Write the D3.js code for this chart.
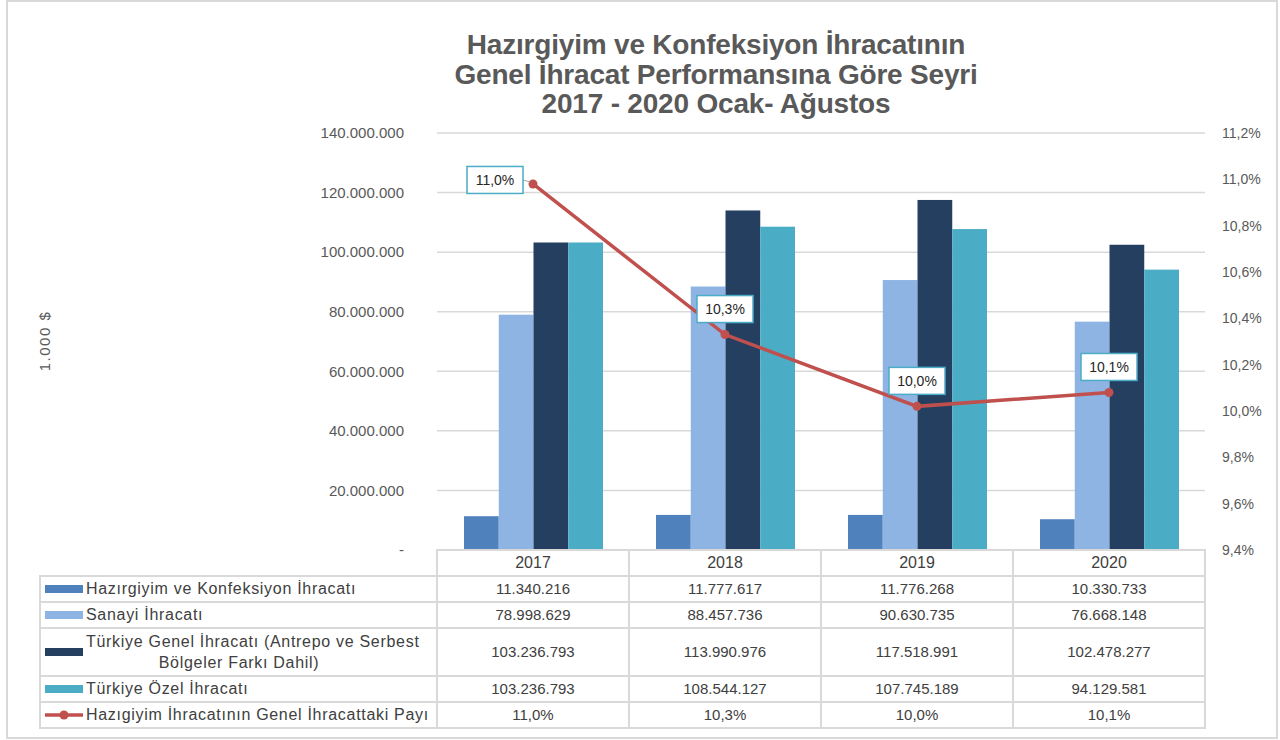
<!DOCTYPE html>
<html>
<head>
<meta charset="utf-8">
<script src="https://cdn.jsdelivr.net/npm/d3@7"></script>
<style>
  body { margin: 0; background: #fff; }
  text { font-family: "Liberation Sans", Arial, sans-serif; }
  .tick-l, .tick-r { fill: #595959; font-size: 14px; }
  .cell { fill: #404040; font-size: 15px; }
  .legtxt { fill: #404040; font-size: 16px; letter-spacing: 0.7px; }
  .grid { stroke: #d9d9d9; stroke-width: 1.5; }
  .tbl { stroke: #d9d9d9; stroke-width: 2; fill: none; }
</style>
</head>
<body>
<script>
// data
var years = ["2017", "2018", "2019", "2020"];
var hazirgiyim = [11340216, 11777617, 11776268, 10330733];
var sanayi = [78998629, 88457736, 90630735, 76668148];
var genel = [103236793, 113990976, 117518991, 102478277];
var ozel = [103236793, 108544127, 107745189, 94129581];
var pay = [10.98, 10.33, 10.02, 10.08];
var leftTicks = [0, 20e6, 40e6, 60e6, 80e6, 100e6, 120e6, 140e6];
var rightTicks = [9.4, 9.6, 9.8, 10.0, 10.2, 10.4, 10.6, 10.8, 11.0, 11.2];

var seriesNames = ["Hazırgiyim ve Konfeksiyon İhracatı", "Sanayi İhracatı",
  "Türkiye Genel İhracatı (Antrepo ve Serbest", "Türkiye Özel İhracatı"];
var lineName = "Hazıgiyim İhracatının Genel İhracattaki Payı";
var colors = ["#4f81bd", "#8eb4e3", "#243f60", "#4bacc6"];
var lineColor = "#c0504d";

var series = [hazirgiyim, sanayi, genel, ozel];

var tr = d3.formatLocale({decimal: ",", thousands: ".", grouping: [3], currency: ["", ""]});
var fmtNum = tr.format(",d");
var fmtPct = function(v) { return tr.format(".1f")(v) + "%"; };

var svg = d3.select("body").append("svg")
    .attr("width", 1280)
    .attr("height", 740);

// outer border
svg.append("rect")
    .attr("x", 7).attr("y", 1)
    .attr("width", 1270).attr("height", 737)
    .attr("fill", "#fff")
    .attr("stroke", "#d9d9d9")
    .attr("stroke-width", 2);

// scales
var x = d3.scaleBand().domain(years).range([437, 1205]);
var xInner = d3.scaleBand().domain(d3.range(4)).range([27, 166]);
var y = d3.scaleLinear().domain([0, 140e6]).range([550, 133]);
var y2 = d3.scaleLinear().domain([9.4, 11.2]).range([550, 133]);

// title
var title = ["Hazırgiyim ve Konfeksiyon İhracatının",
  "Genel İhracat Performansına Göre Seyri",
  "2017 - 2020 Ocak- Ağustos"];
svg.selectAll(".title").data(title).enter().append("text")
    .attr("class", "title")
    .attr("x", 716)
    .attr("y", function(d, i) { return 54 + i * 29.5; })
    .attr("text-anchor", "middle")
    .style("font-size", "28px")
    .style("font-weight", "bold")
    .style("letter-spacing", "-0.2px")
    .style("fill", "#595959")
    .text(function(d) { return d; });

// gridlines
svg.selectAll(".grid").data(leftTicks.slice(1)).enter().append("line")
    .attr("class", "grid")
    .attr("x1", 437).attr("x2", 1205)
    .attr("y1", function(d) { return y(d); })
    .attr("y2", function(d) { return y(d); });

// left axis
var axL = svg.append("g")
    .attr("transform", "translate(404,0)")
    .call(d3.axisLeft(y).tickValues(leftTicks).tickSize(0).tickPadding(0)
      .tickFormat(function(d) { return d === 0 ? "-" : fmtNum(d); }));
axL.select(".domain").remove();
axL.selectAll("text").attr("class", "tick-l").attr("font-family", null).attr("font-size", null).attr("fill", null)
    .style("font-size", "15px");

// right axis
var axR = svg.append("g")
    .attr("transform", "translate(1222,0)")
    .call(d3.axisRight(y2).tickValues(rightTicks).tickSize(0).tickPadding(0)
      .tickFormat(fmtPct));
axR.select(".domain").remove();
axR.selectAll("text").attr("class", "tick-r").attr("font-family", null).attr("font-size", null).attr("fill", null);

// y axis title
svg.append("text")
    .attr("transform", "translate(50,341)rotate(-90)")
    .attr("text-anchor", "middle")
    .style("font-size", "15px")
    .style("letter-spacing", "1.5px")
    .style("fill", "#595959")
    .text("1.000 $");

// bars
series.forEach(function(vals, s) {
  svg.selectAll(".bar" + s).data(vals).enter().append("rect")
      .attr("class", "bar" + s)
      .attr("x", function(d, i) { return x(years[i]) + xInner(s); })
      .attr("width", xInner.bandwidth())
      .attr("y", function(d) { return y(d); })
      .attr("height", function(d) { return y(0) - y(d); })
      .attr("fill", colors[s]);
});

// line
var linePts = pay.map(function(v, i) { return [x(years[i]) + x.bandwidth() / 2, y2(v)]; });
svg.append("path")
    .attr("d", d3.line()(linePts))
    .attr("fill", "none")
    .attr("stroke", lineColor)
    .attr("stroke-width", 3.5);
svg.selectAll(".pt").data(linePts).enter().append("circle")
    .attr("cx", function(d) { return d[0]; })
    .attr("cy", function(d) { return d[1]; })
    .attr("r", 4.5)
    .attr("fill", lineColor);

// data labels (first one left of point, others above)
var lblW = 56, lblH = 27;
linePts.forEach(function(p, i) {
  var cx, cy;
  if (i === 0) {
    cx = p[0] - 10 - lblW / 2; cy = p[1] - 4;
    svg.append("line")
        .attr("x1", cx + lblW / 2).attr("x2", p[0] - 3)
        .attr("y1", cy).attr("y2", cy + 2)
        .attr("stroke", "#a6a6a6").attr("stroke-width", 1);
  } else {
    cx = p[0]; cy = p[1] - 12 - lblH / 2;
  }
  svg.append("rect")
      .attr("x", cx - lblW / 2).attr("y", cy - lblH / 2)
      .attr("width", lblW).attr("height", lblH)
      .attr("fill", "#fff")
      .attr("stroke", "#4bacc6")
      .attr("stroke-width", 1.5);
  svg.append("text")
      .attr("x", cx).attr("y", cy + 5)
      .attr("text-anchor", "middle")
      .style("font-size", "14px")
      .style("fill", "#262626")
      .text(fmtPct(pay[i]));
});

// data table
var rowTops = [576, 602, 628, 676, 702, 728];
var colEdges = [437, 629, 821, 1013, 1205];

// header cells
svg.append("path").attr("class", "tbl")
    .attr("d", "M437,576V550H1205V576");
years.forEach(function(yr) {
  svg.append("text").attr("class", "cell")
      .attr("x", x(yr) + x.bandwidth() / 2)
      .attr("y", 568)
      .attr("text-anchor", "middle")
      .style("font-size", "16px")
      .text(yr);
});

// grid of table
svg.append("rect").attr("class", "tbl")
    .attr("x", 40).attr("y", 576)
    .attr("width", 1165).attr("height", 152);
rowTops.slice(1, 5).forEach(function(t) {
  svg.append("line").attr("class", "tbl")
      .attr("x1", 40).attr("x2", 1205).attr("y1", t).attr("y2", t);
});
colEdges.forEach(function(c) {
  svg.append("line").attr("class", "tbl")
      .attr("x1", c).attr("x2", c).attr("y1", 550).attr("y2", 728);
});

var tableRows = [hazirgiyim, sanayi, genel, ozel];
tableRows.forEach(function(vals, r) {
  var mid = (rowTops[r] + rowTops[r + 1]) / 2;
  // legend key
  svg.append("rect")
      .attr("x", 45).attr("y", mid - 4)
      .attr("width", 38).attr("height", 8)
      .attr("fill", colors[r]);
  if (r === 2) {
    svg.append("text").attr("class", "legtxt")
        .attr("x", 86).attr("y", mid - 5)
        .text(seriesNames[r]);
    svg.append("text").attr("class", "legtxt")
        .attr("x", 239).attr("y", mid + 16)
        .attr("text-anchor", "middle")
        .text("Bölgeler Farkı Dahil)");
  } else {
    svg.append("text").attr("class", "legtxt")
        .attr("x", 86).attr("y", mid + 5)
        .text(seriesNames[r]);
  }
  vals.forEach(function(v, i) {
    svg.append("text").attr("class", "cell")
        .attr("x", x(years[i]) + x.bandwidth() / 2)
        .attr("y", mid + 5)
        .attr("text-anchor", "middle")
        .text(fmtNum(v));
  });
});

// line row
var midL = (rowTops[4] + rowTops[5]) / 2;
svg.append("line")
    .attr("x1", 45).attr("x2", 83).attr("y1", midL).attr("y2", midL)
    .attr("stroke", lineColor).attr("stroke-width", 3.5);
svg.append("circle")
    .attr("cx", 64).attr("cy", midL).attr("r", 4.5).attr("fill", lineColor);
svg.append("text").attr("class", "legtxt")
    .attr("x", 86).attr("y", midL + 5)
    .text(lineName);
pay.forEach(function(v, i) {
  svg.append("text").attr("class", "cell")
      .attr("x", x(years[i]) + x.bandwidth() / 2)
      .attr("y", midL + 5)
      .attr("text-anchor", "middle")
      .text(fmtPct(v));
});
</script>
</body>
</html>
